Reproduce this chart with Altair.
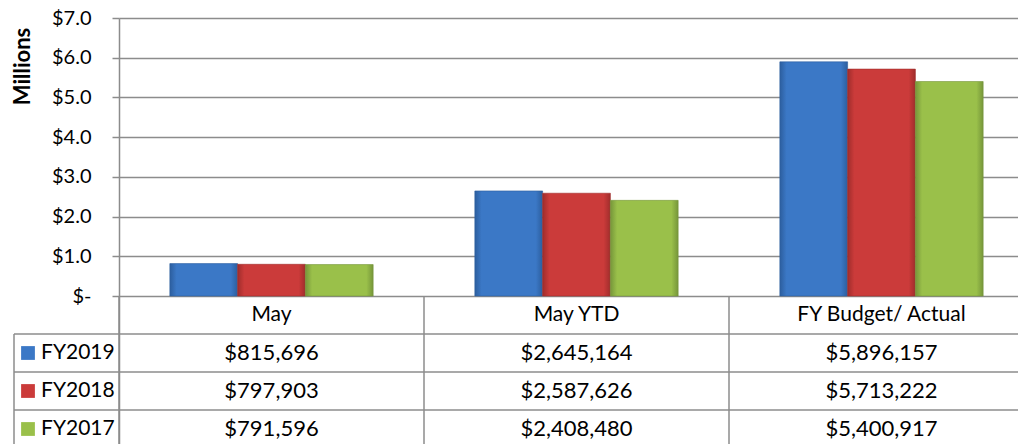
import altair as alt
import pandas as pd

categories = ["May", "May YTD", "FY Budget/ Actual"]
series = ["FY2019", "FY2018", "FY2017"]
fy2019 = [815696, 2645164, 5896157]
fy2018 = [797903, 2587626, 5713222]
fy2017 = [791596, 2408480, 5400917]
y_ticks = [0, 1, 2, 3, 4, 5, 6, 7]
rows = ["header"] + series

base_colors = {"FY2019": "#3B78C6", "FY2018": "#CB3B3A", "FY2017": "#9AC04A"}
dark_colors = {"FY2019": "#2C5E9E", "FY2018": "#A02D2C", "FY2017": "#76963A"}

row_idx = {r: i for i, r in enumerate(rows)}

recs = []
for s, vals in zip(series, [fy2019, fy2018, fy2017]):
    for c, v in zip(categories, vals):
        recs.append({"category": c, "series": s, "amount": v, "value": v / 1e6,
                     "rc": row_idx[s] + 0.5})
df = pd.DataFrame(recs)
hdr = pd.DataFrame({"category": categories, "rc": [row_idx["header"] + 0.5] * 3})
leg = pd.DataFrame({"series": series, "rc": [row_idx[s] + 0.5 for s in series]})
hlines = pd.DataFrame({"rb": [row_idx[r] + 1 for r in rows]})
vlines = pd.DataFrame({"category": categories})

FONT = "Lato"
GRID = "#8C8C8C"
FS = 21
FS_AX = 20
FS_VAL = 22

# layout: bar area 278px tall, table rows of 38px below it (last row runs off the page)
BAR_H = 278
ROW_H = 38
H = 426
W = 899          # visible plot width (page edge)
X_RANGE = 915    # full width of the three category columns
y_min = -7 * (H - BAR_H) / BAR_H

xscale = alt.Scale(domain=categories, range=[0, X_RANGE], paddingInner=0, paddingOuter=0)
offscale = alt.Scale(domain=series, paddingInner=0, paddingOuter=0.75)
yscale = alt.Scale(domain=[y_min, 7], nice=False, zero=False)
rowscale = alt.Scale(domain=[-BAR_H / ROW_H, (H - BAR_H) / ROW_H], reverse=True, nice=False, zero=False)

bar_layers = []
for i, s in enumerate(series):
    grad = alt.Gradient(
        gradient="linear", x1=0, x2=1, y1=0, y2=0,
        stops=[
            alt.GradientStop(color=dark_colors[s], offset=0),
            alt.GradientStop(color=base_colors[s], offset=0.1),
            alt.GradientStop(color=base_colors[s], offset=0.9),
            alt.GradientStop(color=dark_colors[s], offset=1),
        ],
    )
    layer = alt.Chart(df[df["series"] == s]).mark_bar(
        fill=grad, stroke=dark_colors[s], strokeWidth=1, strokeOpacity=0.6
    ).encode(
        x=alt.X("category:N", scale=xscale, axis=None, sort=categories),
        xOffset=alt.XOffset("series:N", scale=offscale, sort=series),
        y=alt.Y("value:Q", scale=yscale,
                axis=alt.Axis(
                    values=y_ticks,
                    labelExpr="datum.value == 0 ? '$-' : '$' + format(datum.value, '.1f')",
                    grid=True, gridColor=GRID, gridWidth=1.5,
                    domainColor=GRID, domainWidth=1.5,
                    tickColor=GRID, tickWidth=1.5, tickSize=7,
                    labelFont=FONT, labelFontSize=FS_AX, labelColor="#000000",
                    labelPadding=21,
                    title="Millions", titleFont=FONT, titleFontSize=22,
                    titleFontWeight="bold", titleColor="#000000",
                    titleX=-97, titleY=48, titleAngle=270,
                    titleAlign="center", titleBaseline="middle",
                ) if i == 0 else None),
        y2=alt.datum(0),
    )
    bar_layers.append(layer)

hrule = alt.Chart(hlines).mark_rule(color=GRID, strokeWidth=1.5).encode(
    y=alt.Y("rb:Q", scale=rowscale, axis=None),
    x=alt.value(-105),
    x2=alt.value(W),
)

vrule = alt.Chart(vlines).mark_rule(color=GRID, strokeWidth=1.5).encode(
    x=alt.X("category:N", scale=xscale, axis=None, bandPosition=0),
    y=alt.value(BAR_H),
    y2=alt.value(H),
)

legrule = alt.Chart(vlines.head(1)).mark_rule(color=GRID, strokeWidth=1.5).encode(
    x=alt.value(-105),
    y=alt.value(BAR_H + ROW_H),
    y2=alt.value(H),
)

hdr_text = alt.Chart(hdr).mark_text(font=FONT, fontSize=FS, color="#000000", baseline="middle").encode(
    x=alt.X("category:N", scale=xscale, axis=None, bandPosition=0.5),
    y=alt.Y("rc:Q", scale=rowscale, axis=None),
    text="category:N",
)

val_text = alt.Chart(df).mark_text(font=FONT, fontSize=FS_VAL, color="#000000", baseline="middle").encode(
    x=alt.X("category:N", scale=xscale, axis=None, bandPosition=0.5),
    y=alt.Y("rc:Q", scale=rowscale, axis=None),
    text=alt.Text("amount:Q", format="$,.0f"),
)

leg_sq = alt.Chart(leg).mark_point(shape="square", filled=True, size=190, opacity=1).encode(
    x=alt.value(-91),
    y=alt.Y("rc:Q", scale=rowscale, axis=None),
    color=alt.Color("series:N", scale=alt.Scale(domain=series, range=[base_colors[s] for s in series]), legend=None),
)

leg_text = alt.Chart(leg).mark_text(font=FONT, fontSize=FS, color="#000000", baseline="middle", align="left").encode(
    x=alt.value(-78),
    y=alt.Y("rc:Q", scale=rowscale, axis=None),
    text="series:N",
)

chart = alt.layer(
    *bar_layers, hrule, vrule, legrule, hdr_text, val_text, leg_sq, leg_text
).resolve_scale(y="independent").properties(
    width=W, height=H,
    autosize="none",
    padding={"left": 111, "top": 10, "right": 0, "bottom": 0},
).configure_view(stroke=None).configure(background="white")

chart.save("out.html", embed_options={"renderer": "svg", "actions": False})
